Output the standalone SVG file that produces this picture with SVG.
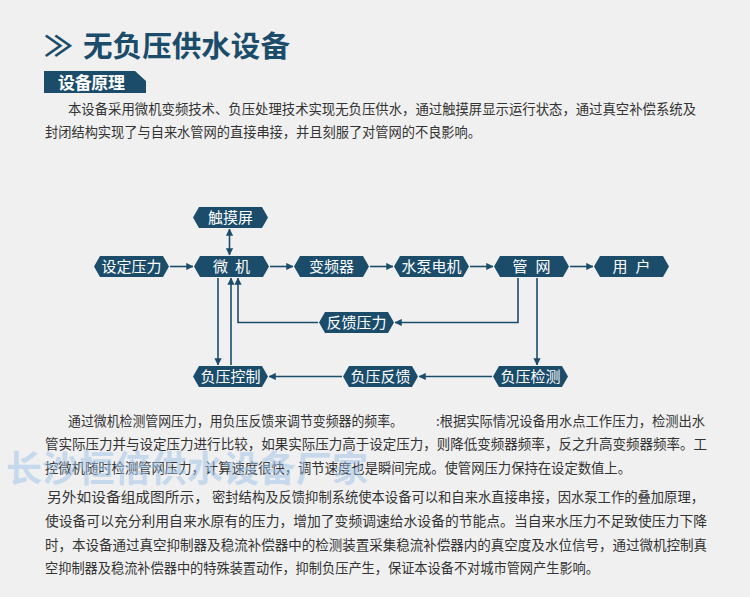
<svg xmlns="http://www.w3.org/2000/svg" xmlns:xlink="http://www.w3.org/1999/xlink" width="750" height="597" viewBox="0 0 750 597">
<style>
.cjk{font-family:"Noto Sans CJK SC","Noto Sans",sans-serif;}
.body{font-family:"Noto Sans CJK SC","Noto Sans",sans-serif;font-size:13.5px;fill:#333333;}
.title{font-family:"Noto Sans CJK SC","Noto Sans",sans-serif;font-weight:bold;fill:#1b4d6b;}
.nodetxt{font-family:"Noto Sans CJK SC","Noto Sans",sans-serif;font-size:15px;fill:#ffffff;text-anchor:middle;}
.hex{fill:#1b4d6b;}
.conn{fill:none;stroke:#1b4d6b;stroke-width:1.6;}
.wm{font-family:"Noto Sans CJK SC","Noto Sans",sans-serif;font-size:36px;font-weight:bold;fill:#9cc2ea;opacity:0.5;}
</style>
<defs>
<polygon id="hexshape" points="0,10.5 6,0 69,0 75,10.5 69,21 6,21"/>
<marker id="ah" viewBox="0 0 8 8" refX="7.5" refY="4" markerWidth="4.5" markerHeight="4.5" orient="auto-start-reverse" markerUnits="strokeWidth">
<path d="M0,0 L8,4 L0,8 Z" fill="#1b4d6b"/>
</marker>
</defs>
<rect x="0" y="0" width="750" height="597" fill="#f0f0f0"/>

<g id="header">
<text class="title" x="44" y="57" font-size="29">≫</text>
<text class="title" x="83" y="57" font-size="29" textLength="207" lengthAdjust="spacingAndGlyphs">无负压供水设备</text>
<polygon points="44,71 135,71 146,81 146,93 44,93" fill="#1b4d6b"/>
<text x="58" y="89" class="cjk" font-size="17" font-weight="bold" fill="#ffffff" textLength="67">设备原理</text>
</g>

<g id="para1">
<text class="body" x="68" y="114" textLength="628" lengthAdjust="spacingAndGlyphs">本设备采用微机变频技术、负压处理技术实现无负压供水，通过触摸屏显示运行状态，通过真空补偿系统及</text>
<text class="body" x="45" y="137" textLength="436" lengthAdjust="spacingAndGlyphs">封闭结构实现了与自来水管网的直接串接，并且刻服了对管网的不良影响。</text>
</g>

<g id="connectors">
<line class="conn" x1="170" y1="266.5" x2="193" y2="266.5" marker-end="url(#ah)"/>
<line class="conn" x1="270" y1="266.5" x2="293" y2="266.5" marker-end="url(#ah)"/>
<line class="conn" x1="370" y1="266.5" x2="393" y2="266.5" marker-end="url(#ah)"/>
<line class="conn" x1="470" y1="266.5" x2="493" y2="266.5" marker-end="url(#ah)"/>
<line class="conn" x1="570" y1="266.5" x2="593" y2="266.5" marker-end="url(#ah)"/>
<line class="conn" x1="229.5" y1="229" x2="229.5" y2="255" marker-start="url(#ah)" marker-end="url(#ah)"/>
<line class="conn" x1="218" y1="278" x2="218" y2="365" marker-end="url(#ah)"/>
<line class="conn" x1="231" y1="365" x2="231" y2="278" marker-end="url(#ah)"/>
<path class="conn" d="M318,322.5 H238 V278" marker-end="url(#ah)"/>
<path class="conn" d="M518,278 V322.5 H395" marker-end="url(#ah)"/>
<line class="conn" x1="537" y1="278" x2="537" y2="365" marker-end="url(#ah)"/>
<line class="conn" x1="492" y1="376.5" x2="419" y2="376.5" marker-end="url(#ah)"/>
<line class="conn" x1="342" y1="376.5" x2="269" y2="376.5" marker-end="url(#ah)"/>
</g>

<g id="node-touch"><use xlink:href="#hexshape" class="hex" x="193" y="207"/><text class="nodetxt" x="230.5" y="223">触摸屏</text></g>
<g id="node-setp"><use xlink:href="#hexshape" class="hex" x="94" y="256"/><text class="nodetxt" x="131.5" y="272">设定压力</text></g>
<g id="node-mcu"><use xlink:href="#hexshape" class="hex" x="194" y="256"/><text class="nodetxt" x="231.5" y="272">微<tspan dx="7">机</tspan></text></g>
<g id="node-vfd"><use xlink:href="#hexshape" class="hex" x="294" y="256"/><text class="nodetxt" x="331.5" y="272">变频器</text></g>
<g id="node-pump"><use xlink:href="#hexshape" class="hex" x="394" y="256"/><text class="nodetxt" x="431.5" y="272">水泵电机</text></g>
<g id="node-pipe"><use xlink:href="#hexshape" class="hex" x="494" y="256"/><text class="nodetxt" x="531.5" y="272">管<tspan dx="8">网</tspan></text></g>
<g id="node-user"><use xlink:href="#hexshape" class="hex" x="594" y="256"/><text class="nodetxt" x="631.5" y="272">用<tspan dx="8">户</tspan></text></g>
<g id="node-fbp"><use xlink:href="#hexshape" class="hex" x="319" y="312"/><text class="nodetxt" x="356.5" y="328">反馈压力</text></g>
<g id="node-npc"><use xlink:href="#hexshape" class="hex" x="193" y="366"/><text class="nodetxt" x="230.5" y="382">负压控制</text></g>
<g id="node-npf"><use xlink:href="#hexshape" class="hex" x="343" y="366"/><text class="nodetxt" x="380.5" y="382">负压反馈</text></g>
<g id="node-npd"><use xlink:href="#hexshape" class="hex" x="493" y="366"/><text class="nodetxt" x="530.5" y="382">负压检测</text></g>

<g id="para2">
<text class="body" x="68" y="426" textLength="335" lengthAdjust="spacingAndGlyphs">通过微机检测管网压力，用负压反馈来调节变频器的频率。</text>
<text class="body" x="436" y="426" textLength="269" lengthAdjust="spacingAndGlyphs">:根据实际情况设备用水点工作压力，检测出水</text>
<text class="body" x="45" y="449" textLength="662" lengthAdjust="spacingAndGlyphs">管实际压力并与设定压力进行比较，如果实际压力高于设定压力，则降低变频器频率，反之升高变频器频率。工</text>
<text class="body" x="45" y="473" textLength="586" lengthAdjust="spacingAndGlyphs">控微机随时检测管网压力，计算速度很快，调节速度也是瞬间完成。使管网压力保持在设定数值上。</text>
</g>

<g id="para3">
<text class="body" x="47" y="502" textLength="162" lengthAdjust="spacingAndGlyphs">另外如设备组成图所示，</text>
<text class="body" x="212" y="502" textLength="492" lengthAdjust="spacingAndGlyphs">密封结构及反馈抑制系统使本设备可以和自来水直接串接，因水泵工作的叠加原理，</text>
<text class="body" x="45" y="526" textLength="662" lengthAdjust="spacingAndGlyphs">使设备可以充分利用自来水原有的压力，增加了变频调速给水设备的节能点。当自来水压力不足致使压力下降</text>
<text class="body" x="45" y="550" textLength="662" lengthAdjust="spacingAndGlyphs">时，本设备通过真空抑制器及稳流补偿器中的检测装置采集稳流补偿器内的真空度及水位信号，通过微机控制真</text>
<text class="body" x="45" y="573" textLength="554" lengthAdjust="spacingAndGlyphs">空抑制器及稳流补偿器中的特殊装置动作，抑制负压产生，保证本设备不对城市管网产生影响。</text>
</g>

<g id="watermark">
<text class="wm" x="6" y="482" textLength="362" lengthAdjust="spacing">长沙恒倍供水设备厂家</text>
</g>
</svg>
